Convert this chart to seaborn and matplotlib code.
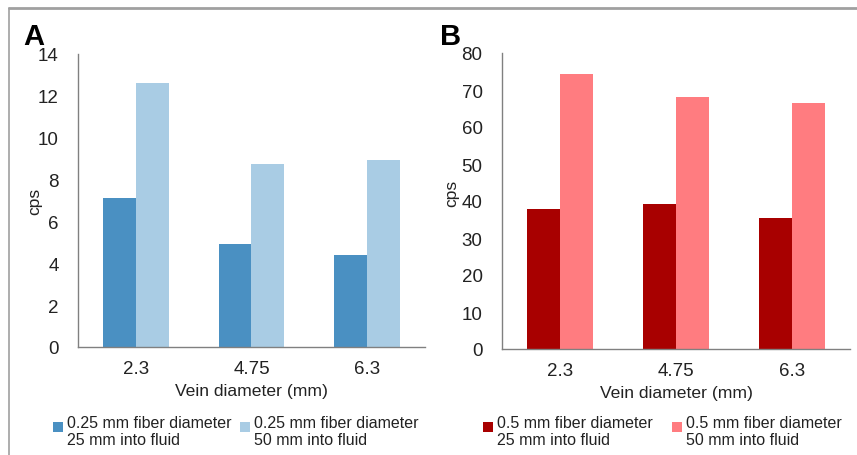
import numpy as np
import pandas as pd
import matplotlib
matplotlib.use('Agg')
import matplotlib.pyplot as plt
from matplotlib.patches import Rectangle
from matplotlib.legend_handler import HandlerPatch
from matplotlib.lines import Line2D
import seaborn as sns

# 데이터
vein = ['2.3', '4.75', '6.3']
a_series = ['0.25 mm fiber diameter\n25 mm into fluid', '0.25 mm fiber diameter\n50 mm into fluid']
a_25 = [7.1, 4.9, 4.4]
a_50 = [12.6, 8.75, 8.95]
b_series = ['0.5 mm fiber diameter\n25 mm into fluid', '0.5 mm fiber diameter\n50 mm into fluid']
b_25 = [37.8, 39.3, 35.3]
b_50 = [74.3, 68.2, 66.6]

a_colors = ['#4a90c2', '#a9cce4']
b_colors = ['#a80000', '#ff7c80']

sns.set_style('white')
plt.rcParams['font.family'] = ['Liberation Sans', 'DejaVu Sans']
plt.rcParams['text.color'] = '#222222'

df_a = pd.DataFrame({'vein': vein * 2, 'cps': a_25 + a_50,
                     'series': [a_series[0]] * 3 + [a_series[1]] * 3})
df_b = pd.DataFrame({'vein': vein * 2, 'cps': b_25 + b_50,
                     'series': [b_series[0]] * 3 + [b_series[1]] * 3})

W, H = 857, 456
fig = plt.figure(figsize=(W / 100, H / 100), dpi=100)
ax_a = fig.add_axes([78 / W, 1 - 348 / H, (425 - 78) / W, (348 - 55) / H])
ax_b = fig.add_axes([502 / W, 1 - 350 / H, (850 - 502) / W, (350 - 54) / H])


# 범례 사각형을 첫 줄에 맞추기
def top_square(legend, orig_handle, xdescent, ydescent, width, height, fontsize):
    s = fontsize * 0.62
    return Rectangle((-xdescent + width - s, -ydescent + height - s * 1.25), s, s)


def draw(ax, df, series, colors, ylim, step, legend_x, colsp, label_xy):
    sns.barplot(data=df, x='vein', y='cps', hue='series', order=vein, hue_order=series,
                palette=colors, width=0.57, linewidth=0, saturation=1, ax=ax)
    ax.set_ylim(0, ylim)
    ax.set_yticks(np.arange(0, ylim + 1, step))
    ax.set_xlim(-0.5, 2.5)
    ax.set_xlabel('Vein diameter (mm)', fontsize=12.6, color='#222222', labelpad=5)
    ax.set_ylabel('cps', fontsize=12.5, color='#222222')
    ax.yaxis.set_label_coords(*label_xy)
    ax.tick_params(axis='both', length=0, labelsize=13.5, labelcolor='#222222')
    ax.tick_params(axis='y', pad=14)
    ax.tick_params(axis='x', pad=9)
    for s in ['top', 'right']:
        ax.spines[s].set_visible(False)
    for s in ['left', 'bottom']:
        ax.spines[s].set_color('#808080')
        ax.spines[s].set_linewidth(1.0)
    handles, labels = ax.get_legend_handles_labels()
    ax.legend_.remove()
    ax.legend(handles, labels, ncol=2, loc='upper left', frameon=False,
              bbox_to_anchor=(legend_x / W, 1 - 416 / H), bbox_transform=fig.transFigure,
              fontsize=11.5, handlelength=0.7, handleheight=2.0, handletextpad=0.25,
              columnspacing=colsp, borderpad=0, borderaxespad=0,
              handler_map={Rectangle: HandlerPatch(patch_func=top_square)})


draw(ax_a, df_a, a_series, a_colors, 14, 2, 52, 0.45, (-0.104, 0.5))
draw(ax_b, df_b, b_series, b_colors, 80, 10, 482, 1.1, (-0.122, 0.53))

fig.text(23 / W, 1 - 45 / H, 'A', fontsize=21, fontweight='bold', color='black', va='baseline')
fig.text(440 / W, 1 - 45 / H, 'B', fontsize=21, fontweight='bold', color='black', va='baseline')

# 테두리
fig.add_artist(Line2D([9 / W, 1], [1 - 8.5 / H, 1 - 8.5 / H], transform=fig.transFigure,
                      color='#a0a0a0', lw=2))
fig.add_artist(Line2D([9 / W, 9 / W], [0, 1 - 8.5 / H], transform=fig.transFigure,
                      color='#a0a0a0', lw=1.2))

fig.savefig('out.png', dpi=100)
